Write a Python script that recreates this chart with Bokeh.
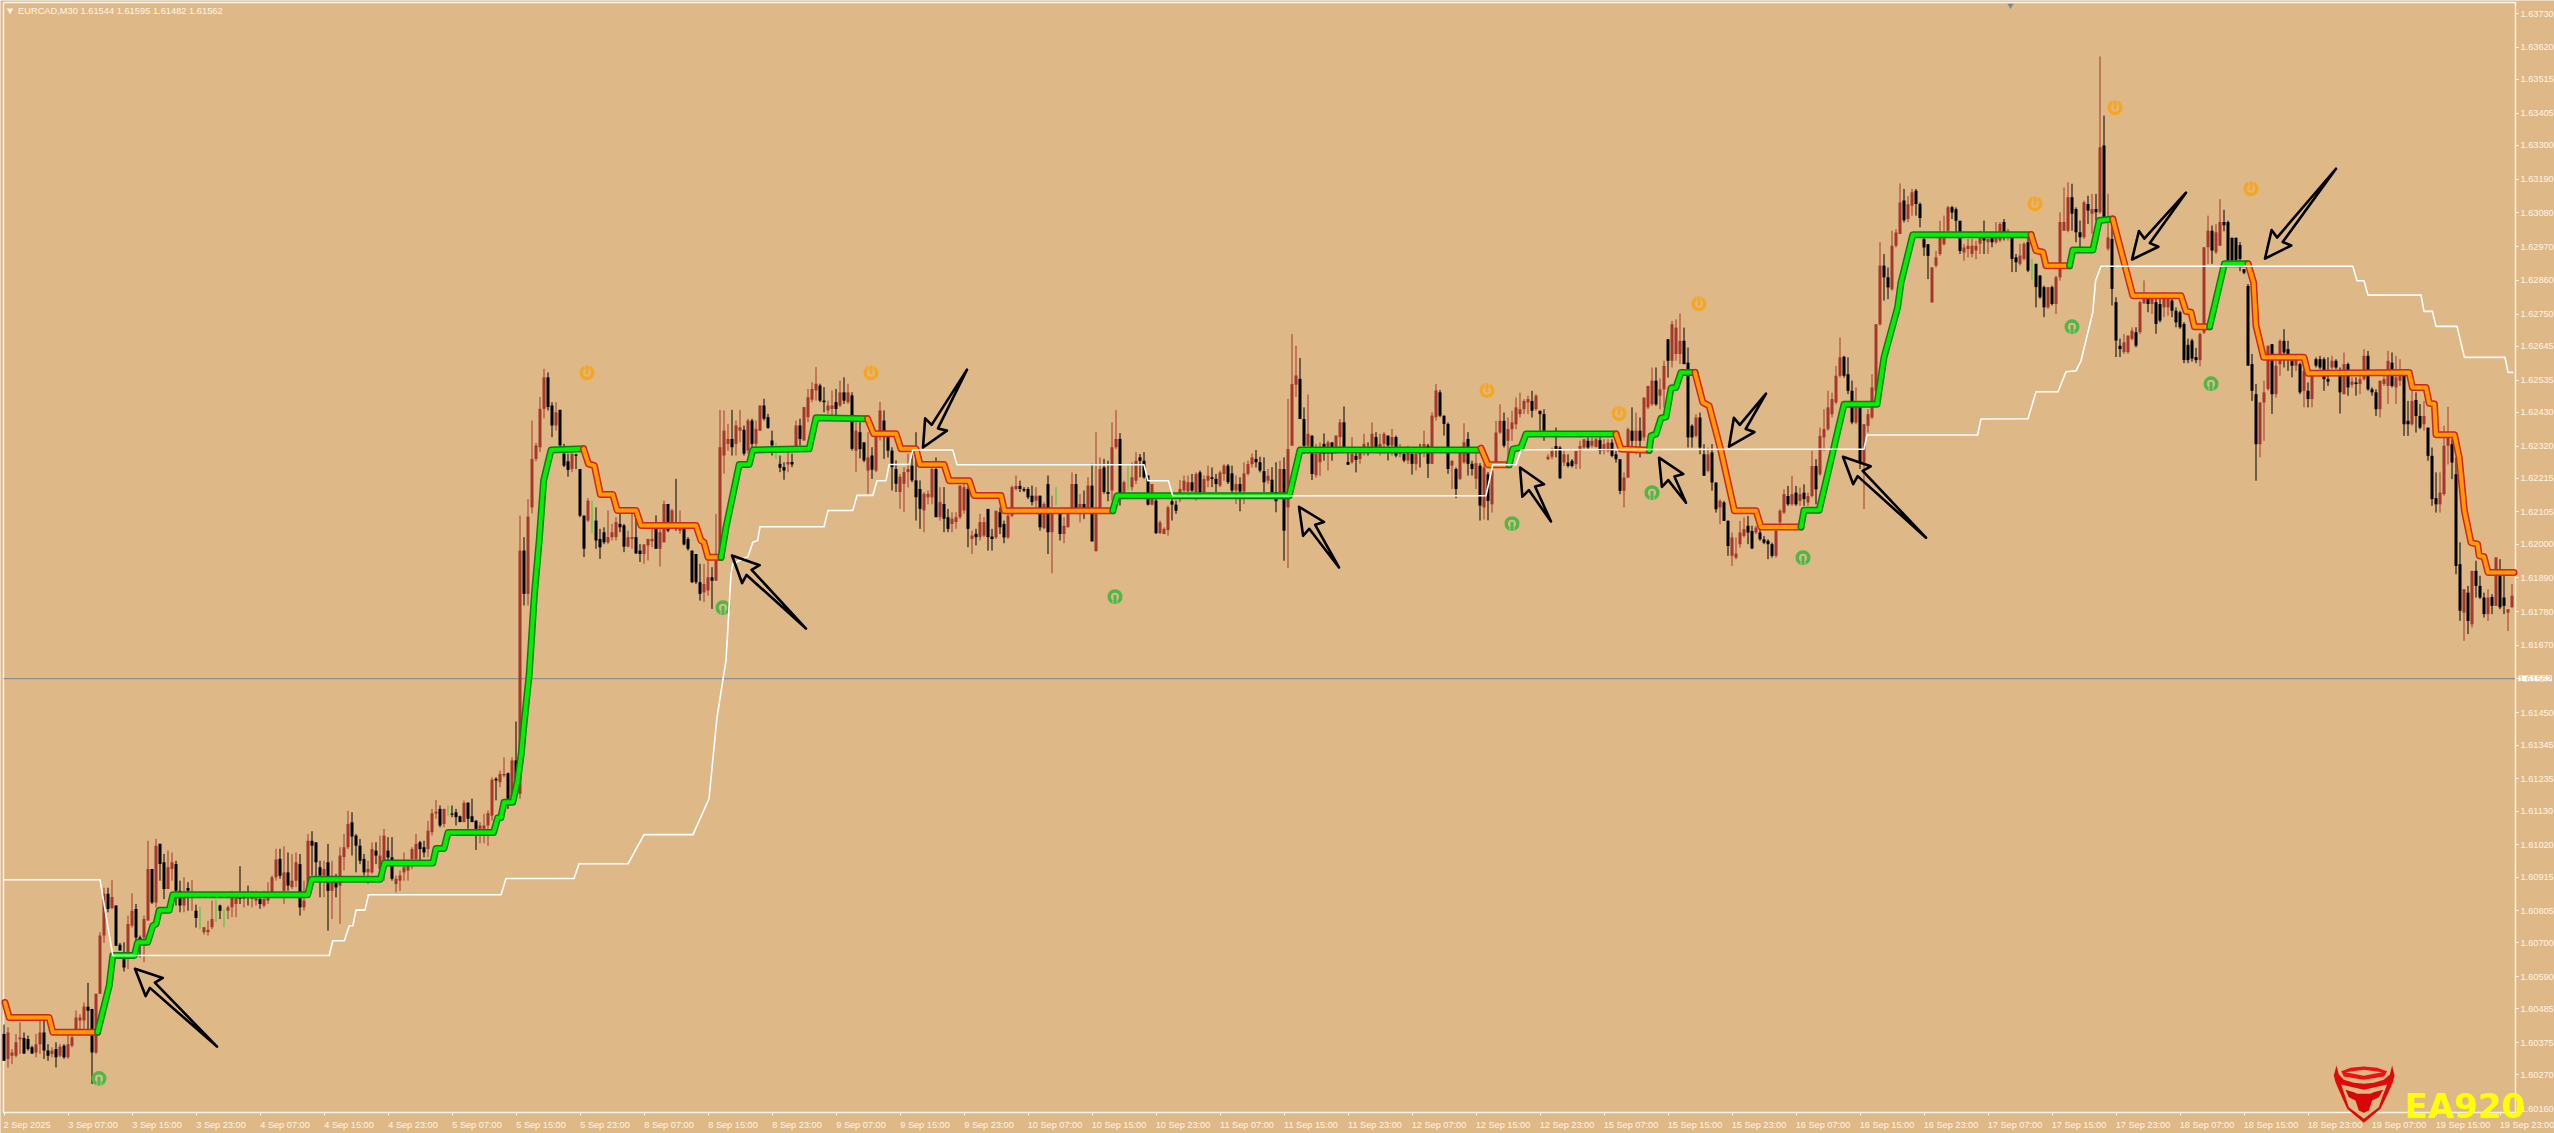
from bokeh.plotting import figure
from bokeh.embed import file_html
from bokeh.resources import INLINE
from bokeh.models import Range1d, FixedTicker, Label, PolyAnnotation
import math

# Candles: (open, high, low, close) in points above 1.60000, one list per 8-hour axis interval
b00 = [(403,434,316,316),(322,425,294,408),(332,354,305,343),(332,403,327,376),(386,441,338,392),(390,408,338,340),(387,398,349,354),(360,365,338,340),(343,403,327,370),(370,447,338,408),(408,447,322,349),(349,370,316,332),(338,360,327,349),(354,376,294,327),(332,370,327,362),(365,370,322,327)]
b01 = [(327,403,322,370),(365,398,360,392),(414,480,400,457),(447,468,403,457),(447,506,414,493),(492,570,414,479),(485,485,240,343),(343,534,338,534),(534,735,534,724),(724,880,700,860),(860,880,800,811),(814,905,810,850),(822,822,690,691),(694,700,675,675),(653,702,607,620),(653,789,615,762)]
b02 = [(756,862,750,805),(811,827,700,718),(718,724,653,707),(718,789,637,778),(773,1033,773,941),(941,941,827,832),(832,1039,816,1017),(1023,1023,903,957),(963,990,843,876),(876,1001,876,947),(941,995,903,963),(957,968,822,870),(870,903,800,822),(822,914,800,849),(879,898,805,870),(860,905,805,865)]
b03 = [(805,825,750,781),(790,818,745,790),(735,751,727,751),(735,772,724,743),(751,838,745,778),(800,840,768,800),(822,825,778,805),(790,810,751,790),(805,822,778,816),(816,870,784,849),(827,854,784,854),(854,950,827,843),(843,870,816,854),(865,887,822,854),(843,870,816,854),(838,870,822,854)]
b04 = [(843,865,811,827),(822,870,816,843),(838,898,827,865),(860,920,849,914),(914,1007,903,972),(974,1007,909,919),(870,1015,827,930),(930,995,870,887),(882,990,876,903),(903,995,882,963),(957,990,789,816),(816,903,805,838),(870,1055,860,1033),(1033,1064,920,1017),(1028,1028,903,963),(947,968,849,920)]
b05 = [(920,968,849,941),(963,1023,740,870),(870,968,778,914),(903,925,849,881),(887,1012,762,985),(980,1055,936,1012),(1012,1131,1006,1088),(1093,1126,985,1047),(1050,1055,930,1017),(1017,1039,957,968),(974,990,920,930),(930,968,892,941),(930,1028,925,1006),(1001,1028,957,985),(941,1050,903,985),(968,1072,903,1050)]
b06 = [(1001,1045,952,979),(979,1045,903,909),(892,920,865,909),(903,936,870,920),(930,995,903,947),(936,963,903,952),(974,1012,941,1006),(974,1055,963,1023),(1028,1033,957,1006),(1012,1033,979,995),(1006,1098,979,1066),(1061,1137,1050,1123),(1122,1166,1105,1128),(1137,1148,1077,1083),(1088,1137,1077,1137),(1120,1148,1115,1120)]
b07 = [(1122,1148,1110,1118),(1126,1137,1083,1110),(1113,1115,1094,1094),(1094,1164,1094,1157),(1157,1159,1072,1105),(1113,1170,1094,1094),(1099,1099,1003,1072),(1072,1094,1025,1083),(1072,1121,1025,1083),(1083,1132,1017,1123),(1115,1240,1099,1232),(1235,1240,1165,1230),(1224,1262,1208,1251),(1246,1305,1240,1251),(1253,1256,1137,1170),(1175,1305,1170,1295)]
b08 = [(1295,1422,1165,1210),(1186,2093,1170,1979),(1979,2023,1800,1838),(1838,2147,1800,2090),(2120,2403,2100,2278),(2278,2330,2270,2322),(2316,2480,2300,2441),(2441,2572,2410,2544),(2544,2560,2436,2447),(2452,2463,2349,2387),(2387,2463,2370,2430),(2438,2438,2316,2322),(2295,2327,2251,2256),(2270,2295,2220,2242),(2245,2295,2235,2295),(2292,2295,2245,2288)]
b09 = [(2245,2245,2088,2093),(2093,2093,1958,1985),(2077,2150,2072,2142),(2080,2142,2036,2080),(2077,2120,1985,2012),(2017,2050,1952,1990),(2039,2055,2000,2006),(2006,2110,2000,2023),(2023,2066,2012,2039),(2023,2088,2012,2072),(2066,2099,2039,2055),(2061,2066,1974,1992),(1992,2044,1990,2023),(2017,2110,1985,2023),(2023,2110,1968,1970),(1979,2000,1942,1968)]
b10 = [(1968,2000,1936,1999),(1996,2017,1947,2017),(2010,2072,1990,2017),(2055,2094,1985,1985),(1985,2061,1927,2039),(2006,2142,2006,2131),(2131,2131,2039,2044),(2066,2115,2066,2110),(2061,2213,2044,2055),(2044,2110,2034,2068),(2066,2066,1996,1999),(2017,2023,1979,1985),(1979,1979,1873,1876),(1968,1968,1870,1876),(1876,1936,1816,1838),(1843,1936,1811,1870)]
b11 = [(1849,1947,1832,1892),(1892,1925,1789,1881),(1881,2099,1881,1947),(1947,2437,1947,2316),(2289,2436,2230,2370),(2327,2392,2305,2343),(2343,2438,2289,2316),(2327,2403,2289,2387),(2370,2438,2332,2381),(2373,2387,2289,2295),(2305,2409,2295,2403),(2403,2409,2295,2327),(2327,2403,2316,2376),(2370,2452,2370,2452),(2452,2474,2403,2409),(2414,2425,2376,2379)]
b12 = [(2338,2370,2289,2322),(2310,2330,2278,2310),(2262,2289,2235,2249),(2251,2267,2210,2240),(2260,2300,2235,2268),(2268,2295,2251,2260),(2311,2403,2311,2387),(2387,2409,2322,2343),(2338,2447,2338,2447),(2414,2506,2398,2479),(2471,2528,2463,2506),(2501,2577,2468,2523),(2517,2523,2463,2468),(2468,2512,2430,2463),(2436,2468,2425,2452),(2441,2501,2420,2452)]
b13 = [(2463,2506,2414,2441),(2452,2533,2447,2495),(2495,2544,2457,2468),(2463,2523,2457,2495),(2485,2495,2305,2311),(2305,2398,2235,2370),(2365,2398,2280,2310),(2332,2332,2267,2273),(2240,2365,2164,2283),(2289,2316,2213,2243),(2240,2360,2235,2349),(2365,2463,2338,2436),(2403,2436,2278,2354),(2349,2349,2283,2305),(2305,2316,2175,2251),(2245,2273,2170,2197)]
b14 = [(2170,2229,2115,2220),(2197,2251,2105,2235),(2235,2295,2185,2245),(2256,2305,2202,2208),(2208,2365,2077,2153),(2180,2208,2050,2115),(2110,2170,2039,2164),(2153,2175,2130,2164),(2153,2262,2130,2245),(2245,2283,2088,2088),(2088,2186,2077,2137),(2131,2186,2039,2083),(2088,2115,2039,2050),(2066,2104,2039,2083),(2072,2104,2050,2088),(2088,2191,2082,2191)]
b15 = [(2110,2213,2099,2186),(2180,2186,1990,2050),(2017,2044,1968,2028),(2034,2050,1996,2023),(2023,2099,2012,2072),(2028,2088,2023,2072),(2115,2115,1979,2023),(2025,2050,1979,2017),(2022,2109,2017,2109),(2104,2120,2033,2055),(2066,2077,2003,2022),(2022,2099,2017,2093),(2093,2191,2088,2186),(2180,2224,2175,2190),(2190,2207,2170,2180),(2180,2186,2170,2175)]
b16 = [(2180,2186,2147,2153),(2158,2191,2126,2137),(2142,2186,2120,2158),(2158,2158,2044,2055),(2052,2137,2050,2131),(2196,2224,1968,2039),(2039,2158,1905,2099),(2160,2186,2126,2160),(2099,2099,2012,2033),(2033,2088,2003,2060),(2055,2109,2055,2099),(2115,2234,2109,2196),(2196,2229,2109,2115),(2120,2164,2071,2131),(2131,2175,2082,2115),(2109,2218,2109,2191)]
b17 = [(2191,2262,2009,2009),(1977,2365,1977,2109),(2109,2283,2104,2245),(2250,2278,2164,2170),(2170,2272,2140,2164),(2175,2397,2142,2316),(2316,2437,2310,2343),(2343,2362,2126,2164),(2164,2207,2158,2202),(2200,2256,2175,2200),(2186,2267,2175,2218),(2207,2300,2196,2272),(2283,2294,2218,2272),(2272,2300,2213,2218),(2224,2224,2126,2129),(2129,2196,2126,2196)]
b18 = [(2142,2147,2033,2036),(2036,2077,2033,2071),(2033,2055,2033,2050),(2046,2126,2028,2120),(2140,2147,2077,2129),(2129,2142,2099,2109),(2147,2209,2137,2180),(2175,2224,2170,2207),(2172,2224,2170,2202),(2202,2229,2170,2175),(2170,2234,2142,2229),(2234,2240,2164,2170),(2170,2224,2164,2212),(2207,2256,2186,2223),(2218,2250,2186,2213),(2213,2229,2170,2196)]
b19 = [(2191,2240,2186,2234),(2229,2261,2207,2256),(2256,2261,2196,2202),(2231,2256,2164,2175),(2175,2224,2131,2196),(2196,2218,2107,2172),(2172,2267,2131,2231),(2229,2272,2224,2261),(2261,2296,2250,2283),(2278,2307,2250,2267),(2267,2285,2234,2240),(2238,2283,2169,2202),(2207,2245,2196,2223),(2210,2251,2164,2169),(2170,2267,2104,2140),(2164,2272,2153,2245)]
b20 = [(2245,2283,1946,2044),(2120,2474,1922,2310),(2321,2685,2321,2522),(2520,2647,2480,2550),(2539,2607,2408,2408),(2408,2446,2294,2321),(2321,2488,2294,2360),(2354,2354,2209,2229),(2225,2327,2217,2294),(2267,2332,2223,2305),(2327,2361,2272,2294),(2294,2338,2240,2332),(2332,2332,2272,2294),(2316,2354,2294,2354),(2349,2408,2310,2397),(2397,2449,2310,2316)]
b21 = [(2268,2300,2259,2259),(2267,2349,2262,2294),(2288,2300,2234,2275),(2278,2300,2262,2300),(2300,2360,2289,2327),(2310,2332,2289,2300),(2316,2397,2300,2360),(2349,2365,2305,2316),(2300,2360,2289,2327),(2327,2365,2294,2360),(2354,2354,2273,2322),(2322,2376,2289,2349),(2349,2354,2283,2289),(2294,2327,2283,2310),(2294,2310,2267,2273),(2273,2321,2262,2300)]
b22 = [(2294,2316,2227,2262),(2262,2300,2240,2294),(2310,2327,2250,2294),(2300,2370,2283,2327),(2321,2327,2216,2262),(2262,2430,2262,2419),(2414,2522,2403,2501),(2495,2503,2414,2419),(2419,2419,2354,2392),(2392,2397,2229,2245),(2256,2273,2180,2272),(2245,2250,2150,2180),(2213,2300,2209,2300),(2267,2394,2262,2332),(2343,2365,2224,2262),(2262,2272,2224,2245)]
b23 = [(2213,2310,2180,2264),(2256,2264,2077,2126),(2120,2260,2080,2250),(2228,2235,2078,2141),(2130,2250,2103,2240),(2266,2402,2261,2364),(2364,2456,2359,2402),(2402,2429,2315,2321),(2337,2413,2266,2375),(2375,2435,2337,2397),(2391,2478,2375,2446),(2424,2494,2413,2440),(2440,2473,2424,2467),(2462,2484,2424,2473),(2467,2500,2413,2435),(2440,2489,2435,2484)]
b24 = [(2435,2435,2370,2424),(2424,2440,2337,2370),(2277,2293,2274,2285),(2285,2315,2277,2304),(2320,2380,2283,2310),(2315,2320,2212,2215),(2266,2304,2255,2293),(2266,2293,2250,2255),(2272,2277,2250,2255),(2261,2304,2245,2304),(2304,2337,2245,2320),(2315,2342,2310,2342),(2337,2348,2310,2315),(2321,2348,2315,2337),(2317,2348,2315,2342),(2339,2348,2293,2304)]
b25 = [(2304,2342,2293,2326),(2304,2342,2299,2331),(2331,2342,2283,2288),(2293,2304,2266,2277),(2277,2277,2163,2174),(2174,2234,2120,2217),(2217,2380,2217,2375),(2370,2446,2304,2337),(2337,2429,2293,2370),(2370,2413,2283,2337),(2348,2478,2337,2478),(2446,2516,2440,2516),(2456,2576,2451,2533),(2533,2576,2451,2456),(2484,2540,2440,2505),(2505,2598,2445,2581)]
b26 = [(2668,2668,2543,2598),(2598,2728,2576,2717),(2620,2733,2598,2706),(2620,2752,2587,2663),(2663,2706,2587,2587),(2592,2641,2315,2348),(2386,2391,2315,2348),(2353,2424,2348,2413),(2413,2429,2293,2315),(2293,2326,2223,2223),(2239,2315,2234,2293),(2299,2326,2174,2201),(2201,2201,2103,2114),(2120,2147,2065,2141),(2136,2141,2076,2076),(2076,2078,1962,1994)]
b27 = [(1962,2038,1929,2022),(1956,2022,1951,1969),(2000,2076,1989,2038),(2027,2087,2022,2049),(2060,2092,2000,2038),(2043,2060,1984,1986),(2038,2060,2033,2054),(2038,2054,2011,2016),(2016,2027,2000,2005),(2011,2016,1951,2000),(2000,2005,1956,1962),(1962,2049,1956,2043),(2071,2114,2065,2109),(2103,2179,2098,2163),(2157,2190,2125,2130),(2130,2223,2125,2163)]
b28 = [(2168,2190,2125,2130),(2141,2185,2125,2163),(2168,2195,2125,2147),(2136,2168,2125,2157),(2157,2304,2152,2255),(2255,2277,2130,2179),(2228,2380,2223,2353),(2348,2440,2304,2375),(2375,2500,2370,2446),(2424,2494,2413,2473),(2462,2581,2456,2549),(2549,2674,2543,2609),(2611,2614,2543,2549),(2554,2609,2489,2500),(2500,2533,2391,2397),(2397,2511,2391,2446)]
b29 = [(2446,2456,2245,2266),(2266,2391,2114,2391),(2386,2440,2364,2424),(2413,2554,2408,2511),(2500,2717,2489,2717),(2717,2984,2712,2908),(2908,2946,2794,2870),(2870,2902,2799,2837),(2831,3022,2826,2973),(2973,3027,2967,3016),(3011,3176,3011,3114),(3120,3158,3049,3056),(3060,3135,3050,3108),(3103,3158,3071,3147),(3152,3158,3071,3109),(3109,3114,3033,3063)]
b30 = [(2994,3005,2940,2967),(2978,2978,2864,2940),(2788,2903,2788,2902),(2908,2956,2902,2935),(2946,3054,2940,3000),(2978,3071,2973,2998),(3022,3103,3016,3098),(3098,3103,3060,3081),(3092,3098,3016,3054),(3054,3054,2946,2956),(2951,2978,2924,2967),(2962,2995,2935,2973),(2946,2995,2935,2973),(2957,2989,2929,2973),(2979,3022,2946,3001),(3006,3055,2946,2990)]
b31 = [(2984,3000,2946,2995),(3000,3000,2968,2984),(2984,3050,2979,3000),(2990,3050,2984,3044),(3050,3060,2990,3017),(3001,3028,2990,3022),(3012,3017,2887,2930),(2935,2946,2887,2919),(2914,2979,2908,2941),(2930,2984,2925,2979),(2984,3006,2887,2892),(2900,2930,2860,2900),(2914,2914,2772,2838),(2876,2876,2800,2805),(2838,2843,2740,2772),(2772,2838,2767,2838)]
b32 = [(2838,2843,2778,2783),(2783,2876,2750,2870),(2870,3082,2859,3050),(3022,3163,3022,3050),(3022,3180,3017,3131),(3131,3175,3022,3077),(3093,3098,2984,3017),(3017,3055,2968,3001),(3001,3120,2995,3115),(3109,3136,3044,3088),(3077,3142,3012,3093),(3093,3142,3055,3082),(3082,3590,3077,3294),(3300,3397,3050,3055),(2963,3142,2957,3000),(2995,3066,2778,2832)]
b33 = [(2789,2805,2610,2664),(2647,2670,2610,2636),(2626,2685,2620,2658),(2626,2680,2620,2680),(2669,2707,2664,2696),(2691,2707,2642,2647),(2691,2794,2685,2789),(2785,2860,2783,2815),(2800,2816,2756,2783),(2783,2816,2750,2805),(2789,2805,2686,2718),(2783,2800,2723,2729),(2772,2821,2740,2805),(2772,2805,2745,2800),(2794,2805,2740,2761),(2761,2772,2707,2723)]
b34 = [(2756,2761,2702,2707),(2718,2724,2590,2600),(2650,2670,2590,2600),(2664,2670,2595,2605),(2610,2640,2590,2600),(2600,2690,2580,2685),(2690,2968,2685,2968),(2968,3071,2914,3022),(3022,3039,2914,2957),(2952,3044,2946,3017),(2973,3125,2973,3050),(3050,3090,3020,3040),(3050,3055,2919,2925),(2999,2999,2919,2925),(2999,2999,2919,2925),(2975,2985,2890,2930)]
b35 = [(2896,2897,2880,2885),(2842,2848,2582,2582),(2587,2620,2467,2500),(2489,2522,2207,2326),(2326,2462,2283,2462),(2462,2533,2337,2495),(2506,2646,2500,2647),(2652,2652,2425,2489),(2489,2598,2478,2582),(2587,2668,2549,2663),(2663,2701,2576,2625),(2636,2663,2565,2620),(2598,2614,2544,2582),(2582,2620,2565,2603),(2587,2592,2489,2495),(2500,2598,2446,2565)]
b36 = [(2500,2527,2446,2473),(2473,2554,2446,2549),(2603,2609,2576,2582),(2603,2614,2571,2576),(2603,2609,2500,2538),(2538,2609,2516,2530),(2576,2614,2571,2598),(2598,2603,2571,2576),(2549,2576,2426,2495),(2489,2625,2489,2587),(2587,2592,2484,2511),(2520,2544,2511,2530),(2527,2544,2484,2522),(2522,2554,2489,2538),(2538,2636,2533,2614),(2614,2630,2500,2505)]
b37 = [(2505,2511,2484,2495),(2495,2505,2418,2440),(2440,2533,2413,2533),(2522,2560,2516,2538),(2516,2630,2457,2598),(2592,2625,2511,2516),(2511,2614,2457,2544),(2533,2603,2516,2554),(2549,2549,2353,2391),(2402,2467,2353,2391),(2391,2500,2386,2467),(2470,2495,2364,2418),(2418,2457,2375,2380),(2391,2467,2370,2418),(2380,2380,2272,2288),(2288,2315,2125,2147)]
b38 = [(2150,2234,2103,2130),(2130,2234,2103,2168),(2163,2386,2158,2321),(2321,2448,2260,2353),(2326,2342,2212,2266),(2228,2283,1902,1929),(1935,2006,1750,1783),(1777,1853,1685,1853),(1842,1864,1707,1750),(1739,1913,1728,1913),(1913,1946,1826,1864),(1864,1897,1821,1826),(1826,1842,1761,1772),(1772,1853,1750,1826),(1828,1837,1772,1799),(1799,1957,1799,1957)]
b39 = [(1897,1951,1788,1794),(1826,1897,1772,1799),(1777,1788,1717,1788),(1794,1870,1794,1832)]

# Thick trend indicator: runs of (bar, points above 1.60000)
red_01 = [(0.25,506),(1.3,457),(11.3,457),(12.2,409),(23.4,409)]
green_01 = [(23.4,409),(26.3,561),(27.2,659),(32.6,659),(33.4,702),(35.9,702),(37.2,756),(38,762),(38.8,807),(41.3,807),(42.2,857),(75.9,857),(76.9,908),(94.1,908),(95.1,961),(107.2,961),(108,1008),(110,1008),(111,1060),(122.4,1060),(123.4,1108),(124.2,1108),(125,1159),(127.2,1159),(128.4,1229),(129.3,1316),(130,1414),(131.3,1577),(132.6,1838),(133.8,2012),(134.9,2207),(136.75,2307),(144.9,2311)]
red_02 = [(144.9,2311),(146.1,2262),(147.6,2256),(149.1,2162),(152.2,2162),(153.3,2110),(158,2110),(159.25,2061),(173,2061),(174.25,2012),(175,2006),(176,1957),(179.25,1957)]
green_02 = [(179.25,1957),(180.5,2055),(183.8,2260),(186.3,2260),(187.2,2307),(201.3,2311),(203,2412),(215.5,2409)]
red_03 = [(215.9,2409),(217.4,2360),(223,2360),(224.25,2311),(228,2311),(229,2260),(235,2260),(236.3,2207),(241.3,2207),(242.5,2159),(249.25,2159),(250.1,2109),(277.2,2109)]
green_03 = [(277.2,2109),(278.25,2158),(321.3,2158),(324,2307),(369.25,2307)]
red_04 = [(369.25,2313),(371,2259),(376.3,2259)]
green_04 = [(376.3,2259),(377.2,2310),(379.25,2315),(380.5,2359),(403,2359)]
red_05 = [(403,2359),(404.25,2310),(411.3,2306)]
green_05 = [(411.3,2306),(411.75,2353),(413,2359),(414.25,2411),(415.5,2415),(416.75,2509),(418,2511),(419.25,2560),(422.75,2560)]
red_06 = [(422.75,2560),(424.7,2462),(426.3,2451),(429.25,2304),(432.6,2109),(438,2109),(439.25,2056),(449.25,2056)]
green_06 = [(449.25,2056),(450,2111),(453.8,2111),(460,2456),(468.25,2456),(470,2609),(473.4,2772),(474.25,2853),(477.2,3009),(506.75,3009)]
red_07 = [(506.75,3009),(508,2957),(509.75,2952),(510.5,2908),(516.4,2908)]
green_07 = [(516.4,2908),(517.2,2959),(522.2,2959),(523.8,3055),(527.2,3060)]
red_08 = [(527.2,3060),(532.2,2810),(544.25,2810),(545.5,2759),(546.75,2756),(547.6,2709),(551.4,2709)]
green_08 = [(551.4,2709),(555.1,2914),(561,2914)]
red_09 = [(561,2914),(562.4,2853),(563,2712),(564.9,2609),(575,2609),(576,2557),(601.3,2560),(602.1,2511),(605.5,2511),(606.3,2459),(607.6,2457),(608,2357),(612.6,2357),(613.8,2283),(615.1,2109),(616.75,2005),(618.4,2000),(618.8,1962),(620,1959),(621,1908),(627.5,1908)]

# Thin white stop line
white_line = [(0,906),(24,906),(27.2,659),(81.3,659),(82.2,707),(85.1,707),(86.3,756),(87.2,756),(88,807),(90.25,807),(91.1,857),(124.25,857),(125.5,910),(142.5,910),(143.75,958),(156,958),(160,1053),(172.25,1053),(176.25,1170),(178.25,1435),(180.5,1621),(181.75,1903),(182.2,1936),(186,1960),(187.2,2006),(188.4,2012),(189,2057),(205,2057),(206,2110),(212.2,2110),(213.25,2159),(217.2,2159),(218.25,2207),(220.5,2207),(221.3,2260),(226.3,2260),(227.2,2307),(237.2,2307),(238.25,2259),(285,2259),(286,2207),(291.1,2207),(292.2,2158),(370.5,2158),(372.2,2259),(378,2259),(379.25,2308),(465,2310),(465.75,2356),(493.4,2356),(494.25,2408),(506,2409),(508,2497),(513.5,2497),(515.5,2562),(518,2565),(519.25,2598),(522.2,2756),(522.9,2859),(524.25,2906),(587.2,2906),(588.25,2859),(590,2859),(591,2812),(604.25,2812),(605,2759),(607.1,2759),(608,2710),(613.25,2710),(615.1,2609),(625.25,2609),(626,2560),(627.3,2560)]

# Signal markers (bar, points above 1.60000)
buy_signals = [(23.75,258),(179.75,1793),(277.75,1829),(377,2067),(412,2168),(449.75,1956),(517,2709),(551.75,2523)]
sell_signals = [(145.75,2559),(216.75,2559),(370.75,2501),(403.75,2426),(423.75,2784),(507.75,3110),(527.75,3423),(561.75,3159)]

# Hand-drawn arrows: tip bar, tip points, tail bar, tail points
arrows = [(32.75,616,53.25,362),(182,1963,200.5,1725),(229.75,2315,240.75,2569),(323.75,2122,333.75,1924),(379,2250,386.75,2074),(413.75,2282,420.5,2135),(431.25,2318,440.5,2491),(459.75,2285,480.5,2021),(532,2928,545.5,3146),(565.25,2931,583,3224)]

price_ticks = [3730,3620,3515,3405,3300,3190,3080,2970,2860,2750,2645,2535,2430,2320,2215,2105,2000,1890,1780,1670,1450,1345,1235,1130,1020,915,805,700,590,485,375,270,160]
current_price = 1562
time_labels = ["2 Sep 2025","3 Sep 07:00","3 Sep 15:00","3 Sep 23:00","4 Sep 07:00","4 Sep 15:00","4 Sep 23:00","5 Sep 07:00","5 Sep 15:00","5 Sep 23:00","8 Sep 07:00","8 Sep 15:00","8 Sep 23:00","9 Sep 07:00","9 Sep 15:00","9 Sep 23:00","10 Sep 07:00","10 Sep 15:00","10 Sep 23:00","11 Sep 07:00","11 Sep 15:00","11 Sep 23:00","12 Sep 07:00","12 Sep 15:00","12 Sep 23:00","15 Sep 07:00","15 Sep 15:00","15 Sep 23:00","16 Sep 07:00","16 Sep 15:00","16 Sep 23:00","17 Sep 07:00","17 Sep 15:00","17 Sep 23:00","18 Sep 07:00","18 Sep 15:00","18 Sep 23:00","19 Sep 07:00","19 Sep 15:00","19 Sep 23:00"]
header_text = "EURCAD,M30  1.61544 1.61595 1.61482 1.61562"

BG = "#DEB887"; FG = "#FFF6E8"; BROWN = "#A5382A"; DOJI = "#32CD32"
AXIS_FONT = "Liberation Sans"
AXIS_SIZE = "9.2px"

intervals = [b00,b01,b02,b03,b04,b05,b06,b07,b08,b09,b10,b11,b12,b13,b14,b15,b16,b17,b18,b19,b20,b21,b22,b23,b24,b25,b26,b27,b28,b29,b30,b31,b32,b33,b34,b35,b36,b37,b38]
candles = [c for iv in intervals + [b39] for c in iv]

def price(pts):
    return round(1.6 + pts / 1e5, 5)

PX_PER_BAR = 4.0
PTS_PER_PX = 3.26
def X(px):   # page pixel to bar
    return (px - 3.5) / PX_PER_BAR
def Y(py):   # page pixel to price
    return 1.6 + (3772.4 - PTS_PER_PX * py) / 1e5

# the frame fills the whole page, so that flags and the logo can lie past the chart's own border
p = figure(frame_width=2554, frame_height=1133, x_range=Range1d(X(0), X(2554)),
           y_range=Range1d(Y(1133), Y(0)),
           y_axis_location="right", toolbar_location=None, output_backend="svg",
           background_fill_color=BG, border_fill_color=BG,
           min_border_left=0, min_border_top=0, min_border_right=0, min_border_bottom=0,
           margin=(0, 0, 0, 0))
p.xgrid.visible = False
p.ygrid.visible = False
p.outline_line_color = None

# chart border
LEFT, RIGHT, TOP, BOTTOM = X(3), X(2515), Y(2), Y(1112)
p.line([LEFT, RIGHT, RIGHT, LEFT, LEFT], [TOP, TOP, BOTTOM, BOTTOM, TOP], line_color=FG, line_width=1.5)

# axes
minor = [16 * k for k in range(len(time_labels))]
centers = [m + (len(t) - 11) * 0.5 + 6.25 for m, t in zip(minor, time_labels)]
xa = p.xaxis[0]
xa.fixed_location = BOTTOM
xa.ticker = FixedTicker(ticks=centers, minor_ticks=minor)
xa.major_label_overrides = {c: t for c, t in zip(centers, time_labels)}
xa.major_tick_line_color = None
xa.major_tick_out = 0; xa.major_tick_in = 0
xa.minor_tick_out = 3; xa.minor_tick_in = 0
xa.minor_tick_line_color = FG
xa.axis_line_color = None
xa.major_label_standoff = 4
xa.major_label_text_color = FG
xa.major_label_text_font = AXIS_FONT
xa.major_label_text_font_size = AXIS_SIZE

ya = p.yaxis[0]
ya.fixed_location = RIGHT
all_ticks = [price(v) for v in price_ticks] + [price(current_price)]
ya.ticker = FixedTicker(ticks=all_ticks)
ya.major_label_overrides = {**{price(v): "%.5f" % price(v) for v in price_ticks}, price(current_price): ""}
ya.major_tick_out = 3; ya.major_tick_in = 0
ya.minor_tick_line_color = None
ya.major_tick_line_color = FG
ya.axis_line_color = None
ya.major_label_standoff = 2
ya.major_label_text_color = FG
ya.major_label_text_font = AXIS_FONT
ya.major_label_text_font_size = AXIS_SIZE

# current price line
p.line([LEFT, RIGHT], [price(current_price)] * 2, line_color="#8A8F96", line_width=1.2)

# candles
xs = list(range(len(candles)))
o = [c[0] for c in candles]; c_ = [c[3] for c in candles]
hi = [max(c) for c in candles]; lo = [min(c) for c in candles]
colors = ["#000000" if cl < op else (BROWN if cl > op else DOJI) for op, cl in zip(o, c_)]
p.segment(xs, [price(v) for v in hi], xs, [price(v) for v in lo], line_color=colors, line_width=1)
p.vbar(xs, width=0.75, bottom=[price(min(a, b)) for a, b in zip(o, c_)], top=[price(max(a, b)) for a, b in zip(o, c_)],
       fill_color=colors, line_color=None)

# signal markers
ring = dict(size=11.5, line_width=3.5, fill_alpha=0)
def signal(points, color, gap_sign):
    bx = [a for a, _ in points]
    pv = [b for _, b in points]
    p.scatter(bx, [price(v) for v in pv], marker="circle", line_color=color, **ring)
    p.rect(bx, [price(v + gap_sign * 20) for v in pv], width=5, height=5, width_units="screen", height_units="screen",
           fill_color=BG, line_color=None)
    p.rect(bx, [price(v + gap_sign * 9) for v in pv], width=3, height=9, width_units="screen", height_units="screen",
           fill_color=color, line_color=None)
signal(buy_signals, "#4CB848", -1)
signal(sell_signals, "#F5A623", 1)

# trend indicator
runs = [(red_01,0),(green_01,1),(red_02,0),(green_02,1),(red_03,0),(green_03,1),(red_04,0),(green_04,1),(red_05,0),
        (green_05,1),(red_06,0),(green_06,1),(red_07,0),(green_07,1),(red_08,0),(green_08,1),(red_09,0)]
for run, up in runs:
    rx = [a for a, _ in run]; ry = [price(b) for _, b in run]
    p.line(rx, ry, line_color="#0A7D12" if up else "#D3231E", line_width=7, line_join="round", line_cap="round")
    p.line(rx, ry, line_color="#00F000" if up else "#FF9A00", line_width=4, line_join="round", line_cap="round")

# stop line
p.line([a for a, _ in white_line], [price(b) for _, b in white_line], line_color="#FFFFFF", line_width=1.6, line_join="round")

# arrows
ax, ay = [], []
for tb, tv, eb, ev in arrows:
    tx, ty = tb * PX_PER_BAR, -tv / PTS_PER_PX
    ex, ey = eb * PX_PER_BAR, -ev / PTS_PER_PX
    ln = math.hypot(ex - tx, ey - ty)
    ux, uy = (ex - tx) / ln, (ey - ty) / ln
    vx, vy = -uy, ux
    shape = [(0, 0), (26.5, -12.5), (24, -3.6), (ln, 0), (24, 3.6), (26.5, 12.5)]
    ax.append([(tx + a * ux + b * vx) / PX_PER_BAR for a, b in shape])
    ay.append([1.6 - (ty + a * uy + b * vy) * PTS_PER_PX / 1e5 for a, b in shape])
p.patches(ax, ay, fill_alpha=0, line_color="#000000", line_width=2.6, line_join="round")

# small chart-shift marker at the top
p.scatter([X(2010)], [Y(5)], marker="inverted_triangle", size=6, fill_color="#7A8790", line_color=None)
# header
p.scatter([X(9.5)], [Y(10)], marker="inverted_triangle", size=6.5, fill_color=FG, line_color=None)
p.add_layout(Label(x=X(17.5), y=Y(10.5), text=header_text, text_color=FG, text_font=AXIS_FONT,
                   text_font_size="9.3px", text_baseline="middle", text_align="left"))

# current price flag
p.add_layout(Label(x=X(2518), y=Y(678), text="%.5f" % price(current_price), text_color=BG, text_font=AXIS_FONT,
                   text_font_size=AXIS_SIZE, text_baseline="middle", text_align="left",
                   background_fill_color="#FFFFFF"))

# logo
def logo(points, color):
    p.add_layout(PolyAnnotation(xs=[X(2250 + a / 3) for a, _ in points], ys=[Y(950 + b / 3) for _, b in points],
                                fill_color=color, fill_alpha=1, line_color=None, editable=False))
logo([(258,345),(250,375),(255,395),(270,430),(290,475),(340,517),(390,475),(412,430),(427,395),(432,375),(425,345),(418,372),(400,388),(370,397),(340,400),(310,397),(280,388),(265,372)], "#E00808")
logo([(272,402),(340,418),(410,402),(395,440),(385,470),(340,505),(295,470),(285,440)], BG)
logo([(272,362),(300,352),(340,348),(380,352),(410,362),(400,378),(340,388),(280,378)], "#F01010")
logo([(285,365),(340,358),(395,365),(340,376)], BG)
logo([(285,418),(310,425),(320,430),(360,430),(370,425),(398,418),(385,440),(365,450),(355,480),(340,487),(325,480),(315,450),(295,440)], "#D80606")
p.add_layout(Label(x=X(2404), y=Y(1105), text="EA920", text_color="#FFFF00", text_font="DejaVu Sans",
                   text_font_style="bold", text_font_size="34px", text_baseline="alphabetic", text_align="left"))

open("out.html", "w").write(file_html(p, INLINE))
